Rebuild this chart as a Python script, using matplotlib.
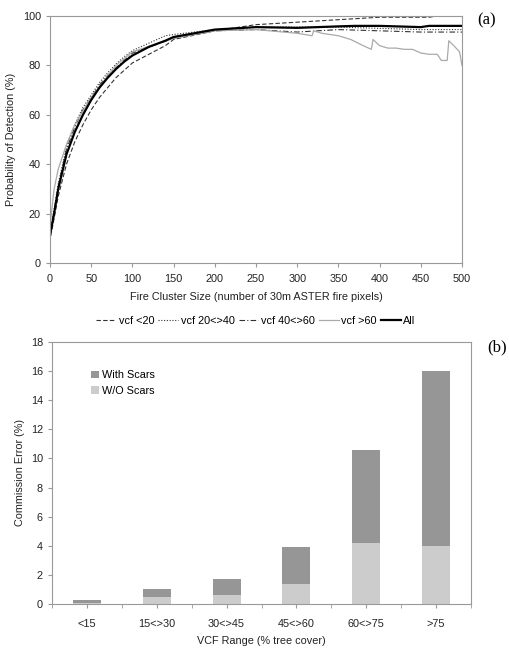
import matplotlib.pyplot as plt
import numpy as np

plt.rcParams['font.family'] = ['Liberation Sans', 'DejaVu Sans']

# panel (a): probability of detection vs fire cluster size
x_all = [1, 5, 10, 20, 30, 40, 50, 60, 70, 80, 90, 100, 120, 140, 150, 175, 200, 250, 300, 350, 370, 400, 450, 460, 500]
y_all = [13, 20, 30, 44, 53, 60, 66, 71, 75, 78.5, 81.5, 84, 87.5, 90, 91.5, 93, 94.5, 95.5, 95.2, 95.8, 96, 96, 95.5, 96, 96]

x_lt20 = [1, 10, 20, 30, 40, 50, 60, 70, 80, 90, 100, 120, 140, 150, 200, 250, 300, 350, 400, 460, 470, 500]
y_lt20 = [11, 27, 40, 49, 56, 62, 67, 71, 75, 78, 81, 84.5, 88, 90.5, 94, 96.5, 97.5, 98.5, 99.5, 99.5, 100, 100]

x_20_40 = [1, 10, 20, 30, 40, 50, 60, 70, 80, 90, 100, 120, 140, 150, 200, 250, 300, 350, 400, 450, 500]
y_20_40 = [14, 32, 47, 56, 63, 68, 73, 77, 80.5, 83.5, 86, 89, 92, 92.5, 94.5, 95.5, 95.5, 95.5, 95, 94.5, 94.5]

x_40_60 = [1, 10, 20, 30, 40, 50, 60, 70, 80, 90, 100, 150, 200, 250, 300, 350, 400, 450, 500]
y_40_60 = [13, 31, 46, 55, 62, 67, 72, 76, 79, 82, 85, 91, 94, 94.5, 93.5, 94.5, 94, 93.5, 93.5]

x_gt60 = [1, 5, 10, 20, 30, 50, 80, 100, 150, 200, 250, 300, 318, 320, 330, 350, 365, 380, 390, 392,
          400, 410, 420, 430, 440, 450, 460, 470, 475, 482, 484, 490, 497, 500]
y_gt60 = [18, 30, 38, 48, 56, 67, 80, 85.5, 91, 94, 94.5, 93, 92, 94, 93, 92, 90.5, 88, 86.5, 90.5,
          88, 87, 87, 86.5, 86.5, 85, 84.5, 84.5, 82, 82, 90, 88, 85.5, 80]

# panel (b): commission error by VCF range
vcf_ranges = ['<15', '15<>30', '30<>45', '45<>60', '60<>75', '>75']
wo_scars = [0.1, 0.5, 0.6, 1.35, 4.2, 4.0]
total_err = [0.3, 1.0, 1.7, 3.95, 10.6, 16.0]
with_scars = [t - w for t, w in zip(total_err, wo_scars)]

fig = plt.figure(figsize=(5.09, 6.48), dpi=100)
ax1 = fig.add_axes([50 / 509, 1 - 263 / 648, 412 / 509, 247 / 648])
ax2 = fig.add_axes([52 / 509, 1 - 604 / 648, 419 / 509, 262 / 648])

grey = '#999999'
fs = 7.8
ax1.plot(x_lt20, y_lt20, color='#333333', lw=0.8, ls=(0, (4, 2)), label='vcf <20')
ax1.plot(x_20_40, y_20_40, color='#333333', lw=0.8, ls=(0, (1, 1.5)), label='vcf 20<>40')
ax1.plot(x_40_60, y_40_60, color='#333333', lw=0.8, ls=(0, (5, 2, 1, 2)), label='vcf 40<>60')
ax1.plot(x_gt60, y_gt60, color='#aaaaaa', lw=0.9, label='vcf >60')
ax1.plot(x_all, y_all, color='black', lw=1.6, label='All')
ax1.set_xlim(0, 500)
ax1.set_ylim(0, 100)
ax1.set_xticks(np.arange(0, 501, 50))
ax1.set_yticks(np.arange(0, 101, 20))
ax1.tick_params(axis='x', pad=5)
ax1.set_xlabel('Fire Cluster Size (number of 30m ASTER fire pixels)', fontsize=fs, color='#222222', labelpad=6)
ax1.set_ylabel('Probability of Detection (%)', fontsize=fs, color='#222222', labelpad=5)
ax1.legend(loc='upper center', bbox_to_anchor=(0.5, -0.175), ncol=5, frameon=False, fontsize=fs,
           handlelength=1.8, handletextpad=0.25, columnspacing=0.4)
fig.text(487 / 509, 1 - 20 / 648, '(a)', family=['Liberation Serif', 'DejaVu Serif'], fontsize=12,
         ha='center', va='center')

pos = np.arange(len(vcf_ranges))
ax2.bar(pos, wo_scars, width=0.4, color='#cccccc', label='W/O Scars')
ax2.bar(pos, with_scars, width=0.4, bottom=wo_scars, color='#969696', label='With Scars')
ax2.set_xlim(-0.5, len(vcf_ranges) - 0.5)
ax2.set_ylim(0, 18)
ax2.set_yticks(np.arange(0, 19, 2))
ax2.set_xticks(pos)
ax2.set_xticklabels(vcf_ranges)
ax2.set_xticks(np.arange(-0.5, len(vcf_ranges)), minor=True)
ax2.tick_params(axis='x', which='major', length=0, pad=8)
ax2.tick_params(axis='x', which='minor', length=3, color=grey)
ax2.set_xlabel('VCF Range (% tree cover)', fontsize=fs, color='#222222', labelpad=5)
ax2.set_ylabel('Commission Error (%)', fontsize=fs, color='#222222', labelpad=4)
h, l = ax2.get_legend_handles_labels()
ax2.legend(h[::-1], l[::-1], loc='upper left', bbox_to_anchor=(0.07, 0.93), frameon=False, fontsize=fs,
           handlelength=0.7, handleheight=0.7, handletextpad=0.3, labelspacing=0.5)
fig.text(497 / 509, 1 - 347 / 648, '(b)', family=['Liberation Serif', 'DejaVu Serif'], fontsize=12,
         ha='center', va='center')

for ax in (ax1, ax2):
    for s in ax.spines.values():
        s.set_color(grey)
        s.set_linewidth(0.8)
    ax.tick_params(axis='both', labelsize=7.8, colors='#222222', length=3)
    ax.tick_params(axis='both', which='both', color=grey)

fig.savefig('out.png', dpi=100)
